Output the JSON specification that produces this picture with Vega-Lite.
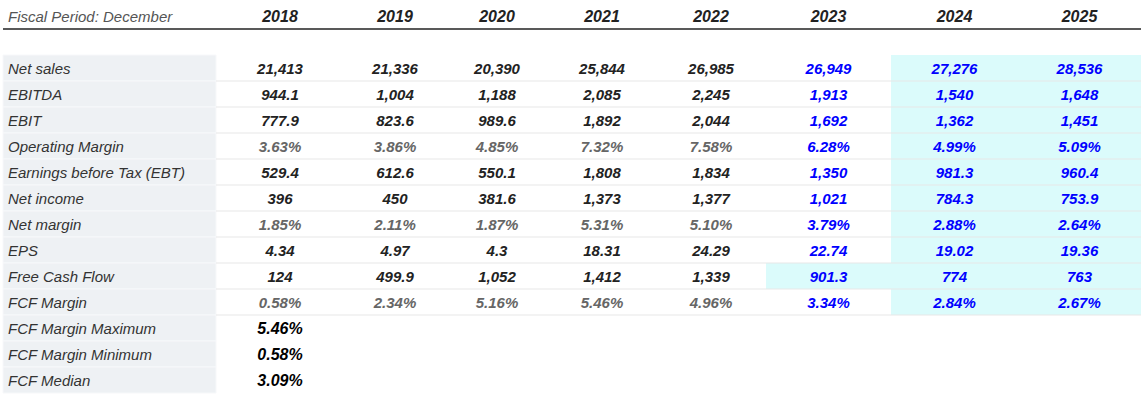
{
  "$schema": "https://vega.github.io/schema/vega-lite/v6.json",
  "width": 1141,
  "height": 390,
  "autosize": "none",
  "padding": {"left": 0, "top": 3, "right": 0, "bottom": 7},
  "background": "white",
  "config": {"view": {"stroke": null}, "text": {"font": "Liberation Sans, Arial, sans-serif"}},
  "datasets": {
    "table": [
      {"metric": "Net sales", "section": "main", "2018": "21,413", "2019": "21,336", "2020": "20,390", "2021": "25,844", "2022": "26,985", "2023": "26,949", "2024": "27,276", "2025": "28,536"},
      {"metric": "EBITDA", "section": "main", "2018": "944.1", "2019": "1,004", "2020": "1,188", "2021": "2,085", "2022": "2,245", "2023": "1,913", "2024": "1,540", "2025": "1,648"},
      {"metric": "EBIT", "section": "main", "2018": "777.9", "2019": "823.6", "2020": "989.6", "2021": "1,892", "2022": "2,044", "2023": "1,692", "2024": "1,362", "2025": "1,451"},
      {"metric": "Operating Margin", "section": "main", "2018": "3.63%", "2019": "3.86%", "2020": "4.85%", "2021": "7.32%", "2022": "7.58%", "2023": "6.28%", "2024": "4.99%", "2025": "5.09%"},
      {"metric": "Earnings before Tax (EBT)", "section": "main", "2018": "529.4", "2019": "612.6", "2020": "550.1", "2021": "1,808", "2022": "1,834", "2023": "1,350", "2024": "981.3", "2025": "960.4"},
      {"metric": "Net income", "section": "main", "2018": "396", "2019": "450", "2020": "381.6", "2021": "1,373", "2022": "1,377", "2023": "1,021", "2024": "784.3", "2025": "753.9"},
      {"metric": "Net margin", "section": "main", "2018": "1.85%", "2019": "2.11%", "2020": "1.87%", "2021": "5.31%", "2022": "5.10%", "2023": "3.79%", "2024": "2.88%", "2025": "2.64%"},
      {"metric": "EPS", "section": "main", "2018": "4.34", "2019": "4.97", "2020": "4.3", "2021": "18.31", "2022": "24.29", "2023": "22.74", "2024": "19.02", "2025": "19.36"},
      {"metric": "Free Cash Flow", "section": "main", "2018": "124", "2019": "499.9", "2020": "1,052", "2021": "1,412", "2022": "1,339", "2023": "901.3", "2024": "774", "2025": "763"},
      {"metric": "FCF Margin", "section": "main", "2018": "0.58%", "2019": "2.34%", "2020": "5.16%", "2021": "5.46%", "2022": "4.96%", "2023": "3.34%", "2024": "2.84%", "2025": "2.67%"},
      {"metric": "FCF Margin Maximum", "section": "summary", "2018": "5.46%"},
      {"metric": "FCF Margin Minimum", "section": "summary", "2018": "0.58%"},
      {"metric": "FCF Median", "section": "summary", "2018": "3.09%"}
    ],
    "years": [
      {"year": 2018}, {"year": 2019}, {"year": 2020}, {"year": 2021},
      {"year": 2022}, {"year": 2023}, {"year": 2024}, {"year": 2025}
    ]
  },
  "layer": [
    {
      "data": {"name": "table"},
      "mark": {"type": "rect", "fill": "#eef1f4", "stroke": "#f7f8fa", "strokeWidth": 1},
      "encoding": {
        "x": {"datum": 2015.5, "type": "quantitative", "axis": null,
          "scale": {"type": "linear", "zero": false, "nice": false,
            "domain": [2015.5, 2017.5, 2018.5, 2019.5, 2020.5, 2021.5, 2022.5, 2023.5, 2024.5, 2025.5],
            "range": [3, 216, 344, 446, 548, 656, 766, 891, 1018, 1141]}},
        "x2": {"datum": 2017.5},
        "y": {"field": "metric", "type": "nominal", "axis": null,
          "scale": {"type": "band", "paddingInner": 0, "paddingOuter": 0,
            "domain": ["header", "gap", "Net sales", "EBITDA", "EBIT", "Operating Margin", "Earnings before Tax (EBT)", "Net income", "Net margin", "EPS", "Free Cash Flow", "FCF Margin", "FCF Margin Maximum", "FCF Margin Minimum", "FCF Median"]}}
      }
    },
    {
      "data": {"name": "table"},
      "transform": [
        {"fold": ["2018", "2019", "2020", "2021", "2022", "2023", "2024", "2025"], "as": ["yearText", "text"]},
        {"calculate": "toNumber(datum.yearText)", "as": "year"},
        {"filter": "datum.section == 'main' && (datum.year >= 2024 || (datum.year == 2023 && datum.metric == 'Free Cash Flow'))"},
        {"calculate": "datum.year - 0.5", "as": "x0"},
        {"calculate": "datum.year + 0.5", "as": "x1"}
      ],
      "mark": {"type": "rect", "fill": "#dbfbfb"},
      "encoding": {
        "x": {"field": "x0", "type": "quantitative", "axis": null},
        "x2": {"field": "x1"},
        "y": {"field": "metric", "type": "nominal", "axis": null}
      }
    },
    {
      "data": {"name": "table"},
      "transform": [{"filter": "datum.section == 'main'"}],
      "mark": {"type": "rule", "color": "#e8e8e8", "strokeWidth": 1.2},
      "encoding": {
        "x": {"datum": 2017.5, "type": "quantitative", "axis": null},
        "x2": {"datum": 2025.5},
        "y": {"field": "metric", "type": "nominal", "axis": null, "bandPosition": 1}
      }
    },
    {
      "data": {"name": "table"},
      "mark": {"type": "text", "align": "left", "baseline": "middle", "dx": 5, "dy": 1, "fontSize": 15, "fontStyle": "italic", "color": "#333333"},
      "encoding": {
        "x": {"datum": 2015.5, "type": "quantitative", "axis": null},
        "y": {"field": "metric", "type": "nominal", "axis": null},
        "text": {"field": "metric"}
      }
    },
    {
      "data": {"name": "table"},
      "transform": [
        {"filter": "datum.section == 'main'"},
        {"fold": ["2018", "2019", "2020", "2021", "2022", "2023", "2024", "2025"], "as": ["yearText", "text"]},
        {"calculate": "toNumber(datum.yearText)", "as": "year"}
      ],
      "mark": {"type": "text", "align": "center", "baseline": "middle", "dy": 1, "fontSize": 15, "fontStyle": "italic", "fontWeight": "bold"},
      "encoding": {
        "x": {"field": "year", "type": "quantitative", "axis": null},
        "y": {"field": "metric", "type": "nominal", "axis": null},
        "text": {"field": "text"},
        "color": {
          "condition": [
            {"test": "datum.year >= 2023", "value": "#0000ff"},
            {"test": "indexof(['Operating Margin', 'Net margin', 'FCF Margin'], datum.metric) >= 0", "value": "#666666"}
          ],
          "value": "#222222"
        }
      }
    },
    {
      "data": {"name": "table"},
      "transform": [
        {"filter": "datum.section == 'summary'"},
        {"fold": ["2018"], "as": ["yearText", "text"]},
        {"calculate": "toNumber(datum.yearText)", "as": "year"}
      ],
      "mark": {"type": "text", "align": "center", "baseline": "middle", "dy": 1, "fontSize": 16, "fontStyle": "italic", "fontWeight": "bold", "color": "#000000"},
      "encoding": {
        "x": {"field": "year", "type": "quantitative", "axis": null},
        "y": {"field": "metric", "type": "nominal", "axis": null},
        "text": {"field": "text"}
      }
    },
    {
      "data": {"values": [{"t": "Fiscal Period: December"}]},
      "mark": {"type": "text", "align": "left", "baseline": "middle", "dx": 5, "dy": 1, "fontSize": 15, "fontStyle": "italic", "color": "#555555"},
      "encoding": {
        "x": {"datum": 2015.5, "type": "quantitative", "axis": null},
        "y": {"datum": "header", "type": "nominal", "axis": null},
        "text": {"field": "t"}
      }
    },
    {
      "data": {"name": "years"},
      "mark": {"type": "text", "align": "center", "baseline": "middle", "dy": 1, "fontSize": 16, "fontStyle": "italic", "fontWeight": "bold", "color": "#222222"},
      "encoding": {
        "x": {"field": "year", "type": "quantitative", "axis": null},
        "y": {"datum": "header", "type": "nominal", "axis": null},
        "text": {"field": "year", "format": "d"}
      }
    },
    {
      "data": {"values": [{"k": 1}]},
      "mark": {"type": "rule", "color": "#222222", "strokeWidth": 1.5},
      "encoding": {
        "x": {"datum": 2015.5, "type": "quantitative", "axis": null},
        "x2": {"datum": 2025.5},
        "y": {"datum": "gap", "type": "nominal", "axis": null, "bandPosition": 0}
      }
    }
  ]
}
